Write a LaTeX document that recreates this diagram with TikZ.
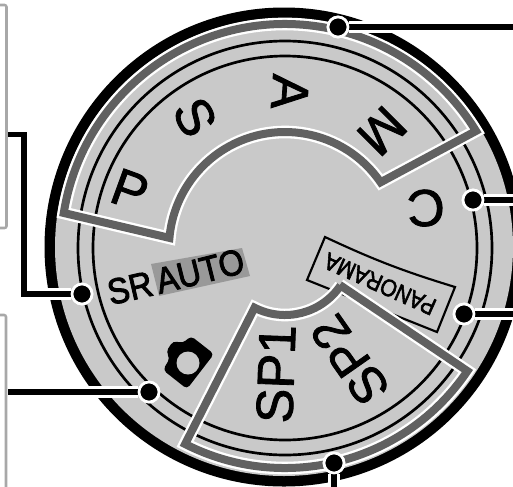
\documentclass[tikz,border=0pt]{standalone}
\usepackage{fontspec}
\setmainfont{Liberation Sans}
\newfontfamily\dialfont[FakeBold=1.6]{Liberation Sans}
\newfontfamily\smallfont[FakeBold=2.6]{Liberation Sans}
\definecolor{dialgray}{gray}{0.79}
\definecolor{bandgray}{gray}{0.38}
\definecolor{boxgray}{gray}{0.66}
\definecolor{autogray}{gray}{0.60}
\tikzset{every picture/.style={line width=0.75pt}}
\tikzset{
  bandhalo/.style={draw=white,line width=9.5pt,miter limit=10},
  band/.style={draw=bandgray,line width=6pt,miter limit=10},
  thinring/.style={draw=black,line width=2pt},
  sidebox/.style={draw=boxgray,line width=1.9pt,rounded corners=1.5pt},
  dot/.style={circle,fill=black,draw=white,line width=2pt,minimum size=15pt,inner sep=0pt},
  leader/.style={draw=black,line width=4.4pt,preaction={draw=white,line width=8.4pt}},
  biglabel/.style={inner sep=0pt,font=\dialfont\fontsize{39}{39}\selectfont},
}

\begin{document}
\begin{tikzpicture}[x=0.75pt,y=0.75pt,yscale=-1,xscale=1]
\clip (0,0) rectangle (513,486);

%Side boxes
\draw [sidebox] (-5,5) -- (6.5,5) -- (6.5,228) -- (-5,228) ;
\draw [sidebox] (-5,315) -- (6,315) -- (6,495) ;

%Dial body
\fill [black] (284,247) circle (239.5) ;
\fill [dialgray] (284,247) circle (229) ;

%Scale rings
\draw [thinring] (285,248) circle (207) ;
\draw [thinring] (285,248) circle (192) ;

%AUTO patch
\fill [autogray] (151,264) -- (242,248) -- (250,276) -- (159,296) -- cycle ;

%PANORAMA frame
\draw [line width=1.6pt] (325,237) to [bend left=4] (455,287) -- (437,332) -- (307,280) -- cycle ;

%Sector bands
\begin{scope}[shift={(285,248)}]
\foreach \bandstyle in {bandhalo,band}{
  \draw [\bandstyle] (-171:224) arc [start angle=-171,end angle=-31.5,radius=224] -- (-34.5:116)
    arc [start angle=-34.5,end angle=-175,radius=116] -- cycle ;
  \draw [\bandstyle] (34:66) -- (34:220) arc [start angle=34,end angle=117,radius=220] -- (117:67)
    arc [start angle=117,end angle=34,radius=67] -- cycle ;
}
\end{scope}

%Camera mark
\fill [black,rounded corners=3pt] (163,370) -- (170,358) -- (166,352) -- (173,341) -- (183,343) -- (191,336) -- (214,354) -- (187,389) -- cycle ;
\fill [dialgray] (188,363) circle (11.5) ;

% Text Node
\node (modeP) [biglabel,rotate=-20] at (130,190) {P};
\node (modeS) [biglabel,rotate=-62] at (195,117) {S};
\node (modeA) [biglabel,rotate=-94] at (290,92) {A};
\node (modeM) [biglabel,rotate=-135] at (382,131) {M};
\node (modeC) [biglabel,rotate=-178] at (426,208) {C};
\node (modeSR) [inner sep=0pt,rotate=13,xscale=.9,font=\smallfont\fontsize{27}{27}\selectfont] at (130,288) {SR};
\node (modeAUTO) [inner sep=0pt,rotate=14,xscale=.9,font=\smallfont\fontsize{27}{27}\selectfont] at (200,271) {AUTO};
\node (modePANO) [inner sep=0pt,rotate=156,xscale=.88,font=\smallfont\fontsize{18}{18}\selectfont] at (380,284) {PANORAMA};
\node (modeSPa) [inner sep=0pt,rotate=88,font=\dialfont\fontsize{39}{39}\selectfont] at (276,374) {SP1};
\node (modeSPb) [inner sep=0pt,rotate=125,font=\dialfont\fontsize{38}{38}\selectfont] at (350,360) {SP2};

%Leader dots and free ends
\node (dotTop) [dot] at (338,27) {};
\node (dotC) [dot] at (473,200) {};
\node (dotPano) [dot] at (464,314) {};
\node (dotBottom) [dot] at (334,463) {};
\node (dotSR) [dot] at (82,294) {};
\node (dotCamera) [dot] at (149,392) {};
\coordinate (endTop) at (520,27);
\coordinate (endC) at (520,200);
\coordinate (endPano) at (520,314);
\coordinate (endBottom) at (334,495);
\coordinate (endSR) at (8,134.5);
\coordinate (bendSRa) at (24,294);
\coordinate (bendSRb) at (24,134.5);
\coordinate (endCamera) at (8,392);

%Leaders
\draw [leader] (dotTop) -- (endTop) ;
\draw [leader] (dotC) -- (endC) ;
\draw [leader] (dotPano) -- (endPano) ;
\draw [leader] (dotBottom) -- (endBottom) ;
\draw [leader] (dotSR) -- (bendSRa) -- (bendSRb) -- (endSR) ;
\draw [leader] (dotCamera) -- (endCamera) ;
\node (dotTopCap) [dot] at (dotTop) {};
\node (dotCCap) [dot] at (dotC) {};
\node (dotPanoCap) [dot] at (dotPano) {};
\node (dotBottomCap) [dot] at (dotBottom) {};
\node (dotSRCap) [dot] at (dotSR) {};
\node (dotCameraCap) [dot] at (dotCamera) {};

\end{tikzpicture}
\end{document}
